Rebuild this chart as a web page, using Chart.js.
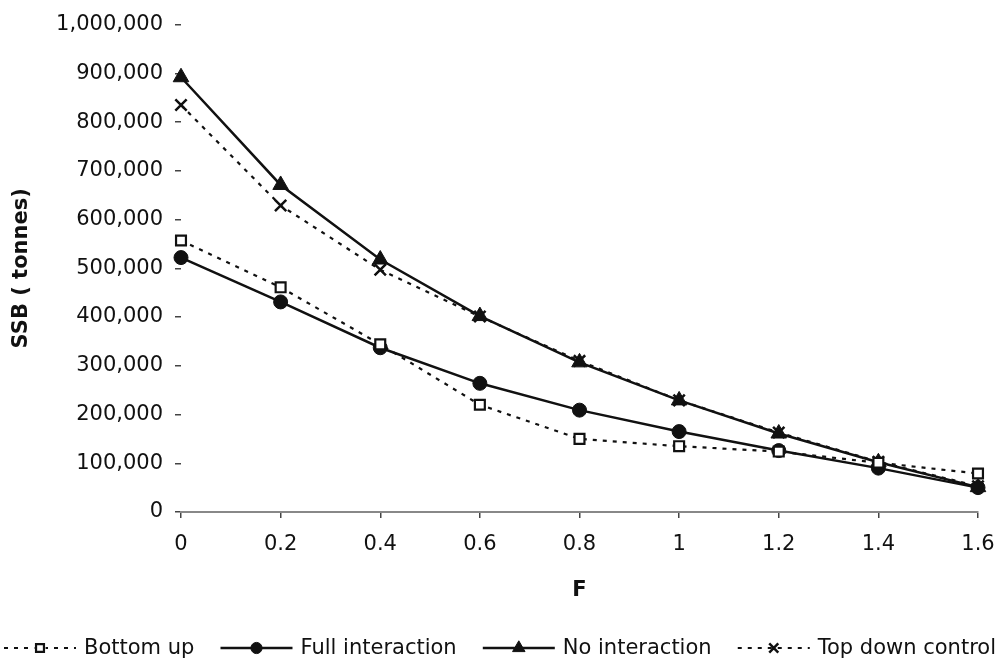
<!DOCTYPE html>
<html>
<head>
<meta charset="utf-8">
<title>SSB vs F</title>
<script src="https://cdn.jsdelivr.net/npm/chart.js@4.4.1/dist/chart.umd.min.js"></script>
<style>
  html, body { margin: 0; padding: 0; background: #fff; }
  #wrap { width: 999px; height: 667px; }
</style>
</head>
<body>
<div id="wrap"><canvas id="ssbChart" width="999" height="667"></canvas></div>
<script>
// fishing mortality levels
const fValues = ['0', '0.2', '0.4', '0.6', '0.8', '1', '1.2', '1.4', '1.6'];

// spawning stock biomass (tonnes) per model
const bottomUp        = [557000, 461000, 344000, 220000, 150000, 135000, 124000, 101000, 79000];
const fullInteraction = [522000, 431000, 337000, 264000, 209000, 165000, 126000, 90000, 50000];
const noInteraction   = [892000, 671000, 518000, 402000, 307000, 229000, 161000, 102000, 51000];
const topDownControl  = [835000, 629000, 497000, 401000, 310000, 229000, 163000, 103000, 53000];

const seriesNames = ['Bottom up', 'Full interaction', 'No interaction', 'Top down control'];

const FONT = "'DejaVu Sans', 'Liberation Sans', sans-serif";
const INK = '#111';

const datasets = [
  {
    label: seriesNames[0], data: bottomUp,
    borderColor: INK, borderWidth: 2.2, borderDash: [4, 6],
    pointStyle: 'rect', pointRadius: 7, pointBackgroundColor: '#fff',
    pointBorderColor: INK, pointBorderWidth: 2.2
  },
  {
    label: seriesNames[1], data: fullInteraction,
    borderColor: INK, borderWidth: 2.5,
    pointStyle: 'circle', pointRadius: 7, pointBackgroundColor: INK,
    pointBorderColor: INK, pointBorderWidth: 1
  },
  {
    label: seriesNames[2], data: noInteraction,
    borderColor: INK, borderWidth: 2.5,
    pointStyle: 'triangle', pointRadius: 9, pointBackgroundColor: INK,
    pointBorderColor: INK, pointBorderWidth: 1
  },
  {
    label: seriesNames[3], data: topDownControl,
    borderColor: INK, borderWidth: 2.2, borderDash: [4, 6],
    pointStyle: 'crossRot', pointRadius: 8, pointBackgroundColor: INK,
    pointBorderColor: INK, pointBorderWidth: 2.5
  }
];
datasets.forEach(d => { d.fill = false; d.tension = 0; });

// legend along the bottom: dashed/solid segment with the marker in the middle, then the name
const bottomLegend = {
  id: 'bottomLegend',
  afterDraw(chart) {
    const ctx = chart.ctx;
    const y = 648;
    const symW = 72, gap = 8;
    const left = 4, right = 996;
    ctx.save();
    ctx.font = '21px ' + FONT;
    ctx.textBaseline = 'middle';
    const widths = chart.data.datasets.map(d => symW + gap + ctx.measureText(d.label).width);
    const total = widths.reduce((a, b) => a + b, 0);
    const spacing = (right - left - total) / (widths.length - 1);
    let x = left;
    chart.data.datasets.forEach((d, i) => {
      ctx.strokeStyle = d.borderColor;
      ctx.lineWidth = d.borderWidth;
      ctx.setLineDash(d.borderDash || []);
      ctx.beginPath();
      ctx.moveTo(x, y);
      ctx.lineTo(x + symW, y);
      ctx.stroke();
      ctx.setLineDash([]);
      const r = d.pointRadius * 0.8;
      ctx.fillStyle = d.pointBackgroundColor;
      ctx.strokeStyle = d.pointBorderColor;
      ctx.lineWidth = d.pointBorderWidth;
      if (d.pointStyle === 'rect') {
        ctx.fillRect(x + symW / 2 - r, y - r, 2 * r, 2 * r);
      }
      Chart.helpers.drawPoint(ctx, {
        pointStyle: d.pointStyle,
        radius: r,
        borderWidth: d.pointBorderWidth
      }, x + symW / 2, y);
      ctx.fillStyle = INK;
      ctx.textAlign = 'left';
      ctx.fillText(d.label, x + symW + gap, y + 1);
      x += widths[i] + spacing;
    });
    ctx.restore();
  }
};

new Chart(document.getElementById('ssbChart').getContext('2d'), {
  type: 'line',
  data: { labels: fValues, datasets: datasets },
  plugins: [bottomLegend],
  options: {
    responsive: false,
    animation: false,
    layout: { padding: { left: 0, right: 21, top: 22, bottom: 60 } },
    plugins: {
      legend: { display: false },
      tooltip: { enabled: false }
    },
    scales: {
      x: {
        type: 'category',
        offset: false,
        afterFit: s => { s.height = 95; s.paddingLeft = 0; s.paddingRight = 0; },
        grid: { drawOnChartArea: false, tickLength: 6, color: '#444', lineWidth: 1.5 },
        border: { color: '#888', width: 2 },
        ticks: { color: INK, font: { family: FONT, size: 21 }, padding: 14, maxRotation: 0 },
        title: {
          display: true, text: 'F', color: INK,
          font: { family: FONT, size: 21, weight: 'bold' },
          padding: { top: 0, bottom: 4 }
        }
      },
      y: {
        min: 0, max: 1000000,
        afterFit: s => { s.width = 181; },
        grid: { drawOnChartArea: false, tickLength: 6, color: '#444', lineWidth: 1.5 },
        border: { display: false },
        ticks: {
          stepSize: 100000, color: INK, padding: 12,
          font: { family: FONT, size: 21 },
          callback: v => v.toLocaleString('en-US')
        },
        title: {
          display: true, text: 'SSB ( tonnes)', color: INK,
          font: { family: FONT, size: 21, weight: 'bold' },
          padding: { top: 9, bottom: 0 }
        }
      }
    }
  }
});
</script>
</body>
</html>
